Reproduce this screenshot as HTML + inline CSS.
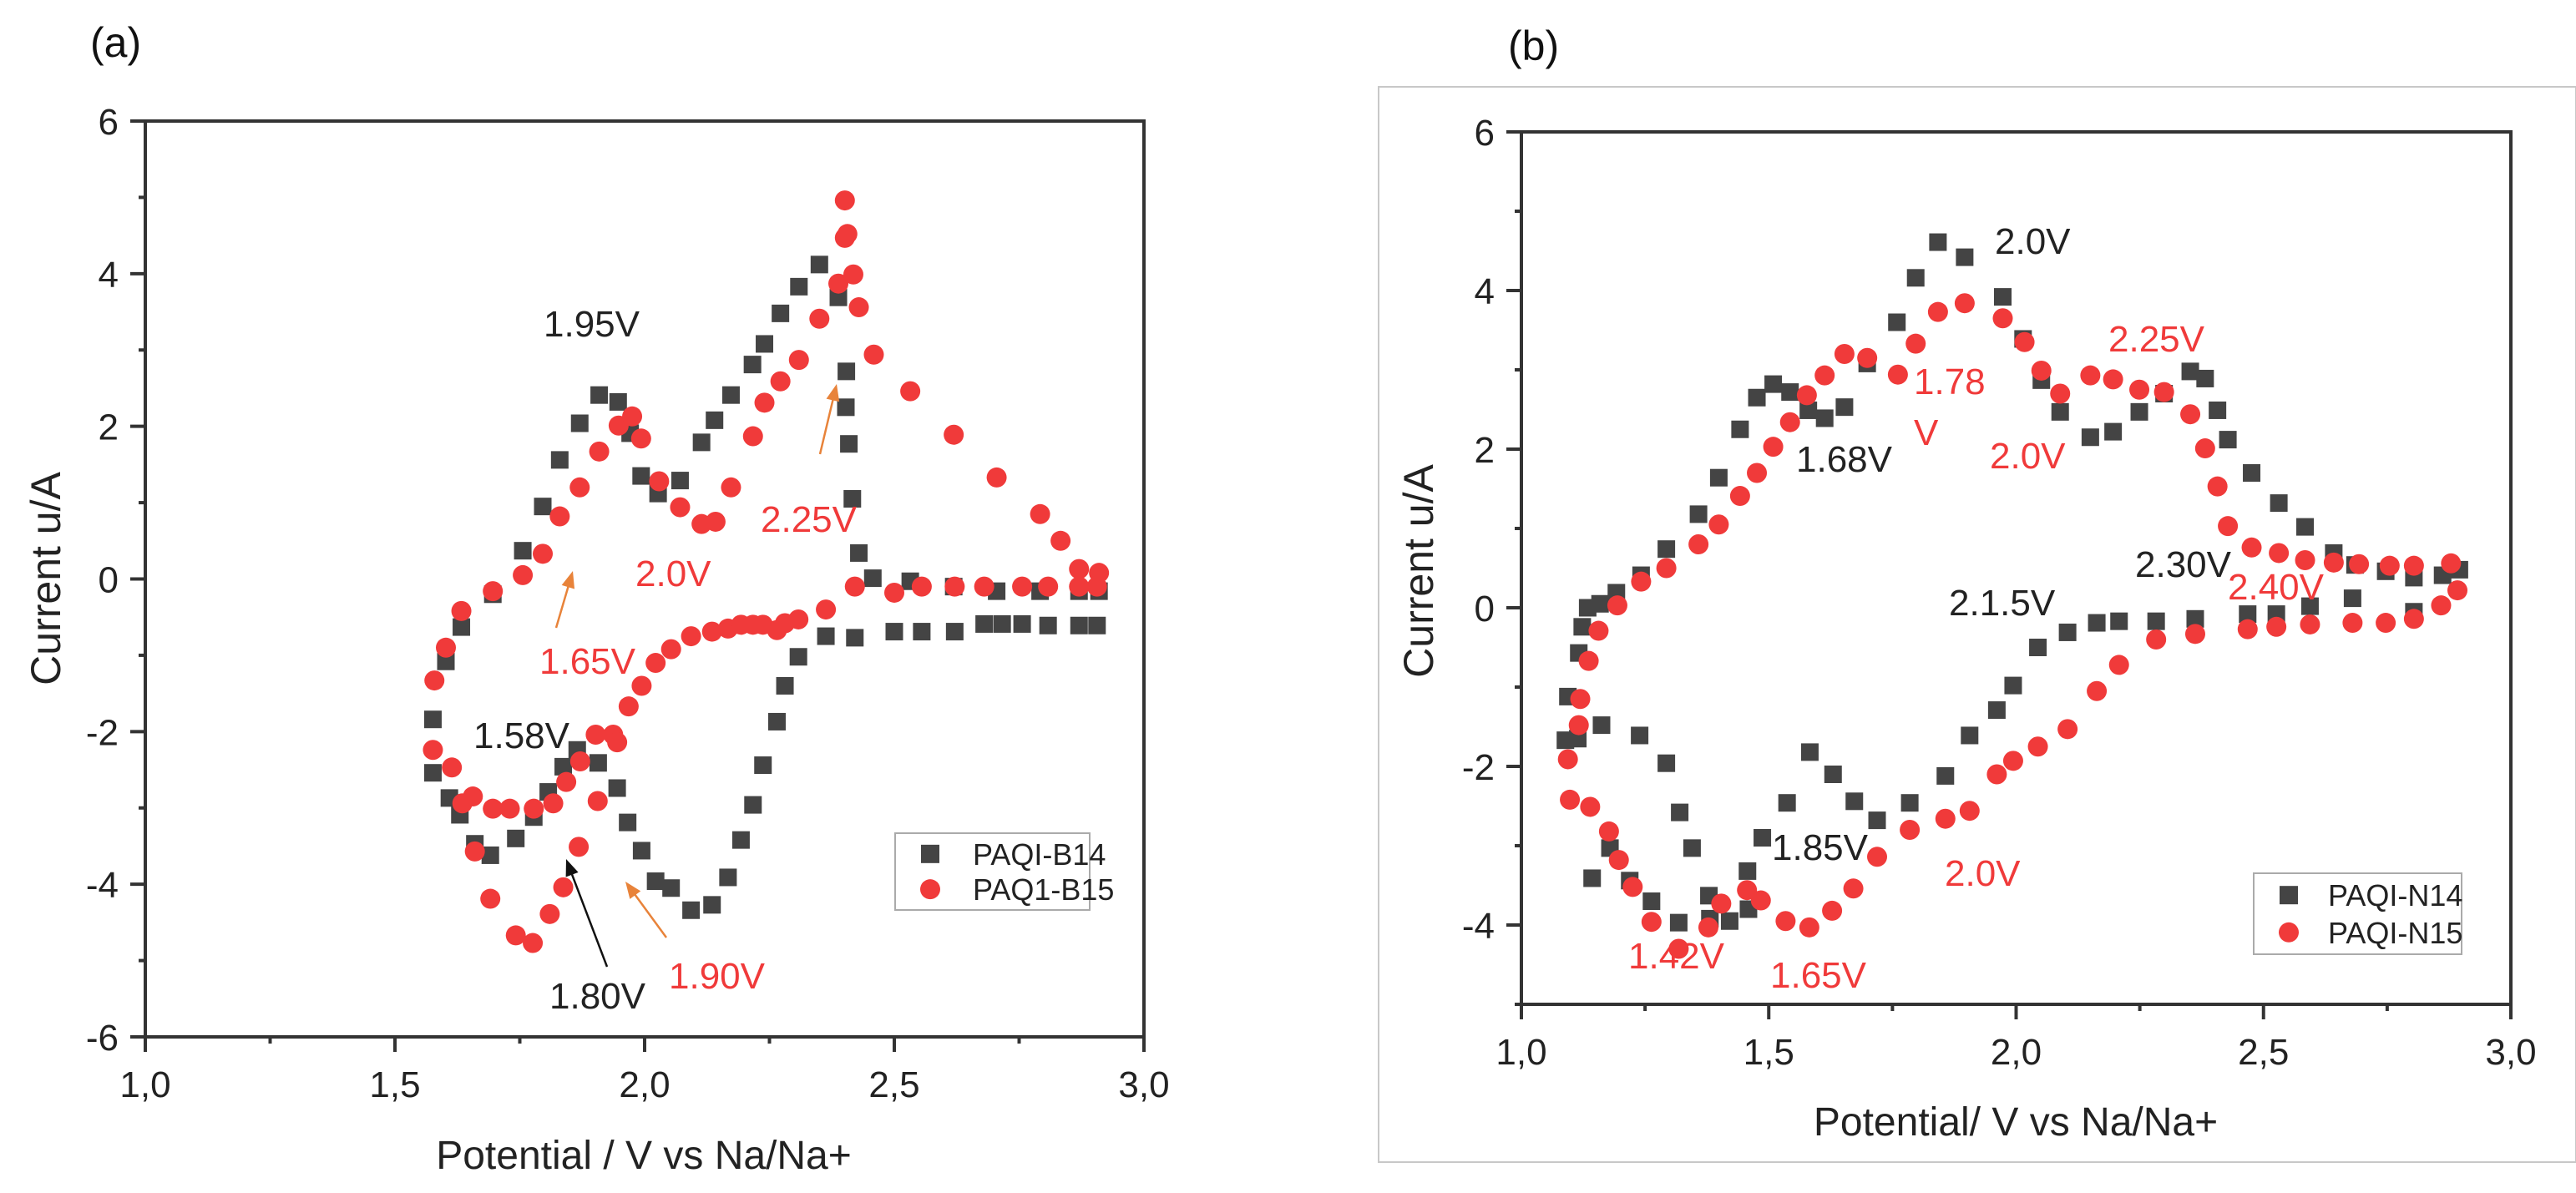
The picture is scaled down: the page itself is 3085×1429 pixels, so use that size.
<!DOCTYPE html>
<html><head><meta charset="utf-8">
<style>
html,body{margin:0;padding:0;background:#fff;}
svg{display:block;font-family:"Liberation Sans",Arial,sans-serif;}
</style></head>
<body>
<svg id="fig" width="3085" height="1429" viewBox="0 0 3085 1429" xmlns="http://www.w3.org/2000/svg">
<rect x="1651" y="104" width="1434" height="1288" fill="none" stroke="#c8c8c8" stroke-width="2"/>
<g id="pa"></g>
<g id="pb"></g>
</svg>
<script>
// ---------- Panel (a) data ----------
const aB14UpperX=[1.576,1.602,1.633,1.696,1.756,1.796,1.830,1.870,1.909,1.947,1.971,1.993,2.027,2.071,2.114,2.140,2.173,2.216,2.240,2.272,2.309,2.350,2.388,2.404,2.403,2.409,2.416,2.429,2.457,2.532,2.619,2.705,2.792,2.870,2.910];
const aB14UpperY=[-1.84,-1.08,-0.63,-0.20,0.37,0.95,1.56,2.04,2.41,2.32,1.91,1.35,1.12,1.29,1.79,2.08,2.41,2.81,3.08,3.48,3.83,4.12,3.69,2.72,2.25,1.77,1.05,0.34,0.01,-0.03,-0.10,-0.16,-0.16,-0.16,-0.16];
const aB14LowerX=[1.576,1.609,1.630,1.660,1.691,1.742,1.778,1.807,1.837,1.865,1.907,1.945,1.966,1.994,2.022,2.053,2.093,2.135,2.167,2.193,2.217,2.237,2.265,2.281,2.308,2.363,2.421,2.500,2.555,2.621,2.680,2.716,2.756,2.808,2.870,2.906];
const aB14LowerY=[-2.54,-2.87,-3.09,-3.47,-3.62,-3.40,-3.12,-2.79,-2.46,-2.24,-2.41,-2.74,-3.19,-3.56,-3.96,-4.05,-4.34,-4.27,-3.91,-3.42,-2.96,-2.44,-1.87,-1.40,-1.02,-0.75,-0.77,-0.69,-0.69,-0.69,-0.59,-0.59,-0.59,-0.61,-0.61,-0.61];
const aB15UpperX=[1.579,1.602,1.633,1.696,1.756,1.796,1.830,1.870,1.909,1.948,1.975,1.993,2.029,2.071,2.114,2.142,2.173,2.217,2.240,2.272,2.309,2.350,2.388,2.401,2.406,2.401,2.418,2.429,2.459,2.532,2.619,2.705,2.792,2.833,2.870,2.910];
const aB15UpperY=[-1.33,-0.90,-0.42,-0.16,0.05,0.33,0.82,1.20,1.67,2.01,2.13,1.84,1.28,0.94,0.72,0.75,1.20,1.87,2.31,2.59,2.87,3.41,3.87,4.47,4.52,4.96,3.99,3.56,2.94,2.46,1.89,1.33,0.85,0.50,0.13,0.08];
const aB15LowerX=[1.576,1.614,1.635,1.656,1.660,1.691,1.696,1.730,1.742,1.776,1.778,1.810,1.817,1.837,1.843,1.868,1.871,1.906,1.902,1.937,1.945,1.968,1.994,2.022,2.053,2.093,2.135,2.167,2.193,2.217,2.237,2.265,2.281,2.308,2.363,2.421,2.500,2.555,2.621,2.680,2.756,2.808,2.870,2.906];
const aB15LowerY=[-2.24,-2.47,-2.94,-2.85,-3.57,-4.19,-3.01,-3.01,-4.67,-4.77,-3.01,-4.39,-2.94,-4.04,-2.66,-3.51,-2.39,-2.91,-2.04,-2.04,-2.14,-1.67,-1.40,-1.10,-0.92,-0.75,-0.69,-0.65,-0.60,-0.60,-0.60,-0.67,-0.58,-0.53,-0.40,-0.10,-0.18,-0.10,-0.10,-0.10,-0.10,-0.10,-0.10,-0.10];
// ---------- Panel (b) data ----------
const bN14X=[1.094,1.116,1.123,1.134,1.159,1.192,1.242,1.293,1.358,1.399,1.442,1.476,1.509,1.543,1.580,1.613,1.653,1.699,1.759,1.797,1.842,1.896,1.973,2.014,2.051,2.089,2.150,2.196,2.249,2.299,2.352,2.382,2.407,2.428,2.476,2.531,2.584,2.642,2.685,2.747,2.804,2.862,2.896,
 1.089,1.114,1.143,1.162,1.179,1.219,1.239,1.263,1.293,1.318,1.320,1.345,1.379,1.381,1.421,1.459,1.457,1.487,1.537,1.583,1.630,1.673,1.719,1.785,1.857,1.906,1.961,1.994,2.044,2.104,2.163,2.208,2.283,2.362,2.468,2.526,2.594,2.680,2.804];
const bN14Y=[-1.12,-0.57,-0.24,0.00,0.05,0.19,0.41,0.74,1.18,1.64,2.25,2.65,2.82,2.72,2.49,2.39,2.53,3.08,3.60,4.16,4.61,4.42,3.92,3.39,2.87,2.47,2.15,2.22,2.47,2.70,2.98,2.89,2.49,2.12,1.70,1.32,1.02,0.69,0.54,0.46,0.38,0.41,0.48,
 -1.67,-1.65,-3.41,-1.48,-3.03,-3.44,-1.61,-3.70,-1.96,-3.97,-2.58,-3.03,-3.63,-3.92,-3.95,-3.80,-3.32,-2.90,-2.46,-1.82,-2.10,-2.44,-2.68,-2.46,-2.12,-1.61,-1.29,-0.98,-0.50,-0.31,-0.19,-0.17,-0.17,-0.14,-0.08,-0.08,0.02,0.12,-0.05];
const bN15X=[1.136,1.156,1.194,1.242,1.293,1.358,1.399,1.442,1.476,1.509,1.543,1.577,1.613,1.653,1.699,1.761,1.797,1.842,1.896,1.973,2.017,2.051,2.089,2.150,2.196,2.249,2.299,2.352,2.382,2.407,2.428,2.476,2.531,2.584,2.642,2.693,2.755,2.804,2.879,
 1.094,1.098,1.116,1.119,1.139,1.177,1.197,1.225,1.263,1.318,1.378,1.404,1.456,1.484,1.534,1.582,1.628,1.671,1.719,1.785,1.857,1.906,1.961,1.994,2.044,2.104,2.163,2.208,2.283,2.362,2.468,2.526,2.594,2.680,2.747,2.804,2.859,2.892];
const bN15Y=[-0.67,-0.29,0.03,0.33,0.50,0.80,1.05,1.41,1.70,2.03,2.34,2.68,2.93,3.20,3.15,2.94,3.33,3.73,3.84,3.65,3.35,2.99,2.70,2.93,2.88,2.75,2.72,2.44,2.01,1.53,1.03,0.76,0.69,0.60,0.57,0.55,0.53,0.53,0.56,
 -1.91,-2.42,-1.48,-1.15,-2.51,-2.82,-3.18,-3.52,-3.96,-4.30,-4.03,-3.73,-3.56,-3.69,-3.95,-4.03,-3.82,-3.54,-3.14,-2.80,-2.66,-2.56,-2.10,-1.93,-1.75,-1.53,-1.05,-0.72,-0.40,-0.33,-0.27,-0.24,-0.21,-0.19,-0.19,-0.14,0.03,0.22];
const xTickLabels=["1,0","1,5","2,0","2,5","3,0"];
const xTickValues=[1.0,1.5,2.0,2.5,3.0];
const aYTicks=[-6,-4,-2,0,2,4,6];
const bYTicks=[-4,-2,0,2,4,6];

const NS="http://www.w3.org/2000/svg";
const SQ="#444444", RD="#f03a3a";
function mk(parent,tag,attrs,text){const e=document.createElementNS(NS,tag);for(const k in attrs)e.setAttribute(k,attrs[k]);if(text!==undefined)e.textContent=text;parent.appendChild(e);return e;}

function drawPanel(g,cfg){
  const sx=v=>cfg.x0+(v-cfg.xmin)/(cfg.xmax-cfg.xmin)*(cfg.x1-cfg.x0);
  const sy=v=>cfg.y0-(v-cfg.ymin)/(cfg.ymax-cfg.ymin)*(cfg.y0-cfg.y1);
  const ax=mk(g,"g",{});
  
  
  const fr=mk(ax,"rect",{x:cfg.x0,y:cfg.y1,width:cfg.x1-cfg.x0,height:cfg.y0-cfg.y1,fill:"none",stroke:"#333",'stroke-width':4});
  
  
  // x ticks
  for(let v=1.0;v<=3.0001;v+=0.25){
    const major=Math.abs(v*2-Math.round(v*2))<1e-6;
    mk(ax,"line",{x1:sx(v),x2:sx(v),y1:cfg.y0,y2:cfg.y0+(major?18:8),stroke:"#333",'stroke-width':4});
  }
  xTickValues.forEach((v,i)=>{
    const t=mk(ax,"text",{x:sx(v),y:cfg.y0+72,'font-size':44,'text-anchor':'middle',fill:"#222"},xTickLabels[i]);
    
    
  });
  for(let v=cfg.ymin;v<=cfg.ymax;v+=1){
    const major=(v%2===0);
    mk(ax,"line",{x1:cfg.x0,x2:cfg.x0-(major?18:8),y1:sy(v),y2:sy(v),stroke:"#333",'stroke-width':4});
  }
  cfg.yTicks.forEach(v=>{
    const t=mk(ax,"text",{x:cfg.x0-32,y:sy(v)+16,'font-size':44,'text-anchor':'end',fill:"#222"},String(v));
    
    
  });
  const yt=mk(g,"text",{x:0,y:0,'font-size':50,'text-anchor':'middle',fill:"#222",transform:`translate(${cfg.ytx},${cfg.yty}) rotate(-90)`},"Current u/A");
  
  
  const xt=mk(g,"text",{x:cfg.xtx,y:cfg.xty,'font-size':48,'text-anchor':'middle',fill:"#222"},cfg.xtitle);
  
  
  const pl=mk(g,"text",{x:cfg.plx,y:cfg.ply,'font-size':50,fill:"#111"},cfg.label);
  
  
  // series
  cfg.series.forEach(s=>{
    const sg=mk(g,"g",{});
    
    
    s.xs.forEach((xv,i)=>{
      let m;
      if(s.shape==="sq") m=mk(sg,"rect",{x:sx(xv)-10.5,y:sy(s.ys[i])-10.5,width:21,height:21,fill:SQ});
      else m=mk(sg,"circle",{cx:sx(xv),cy:sy(s.ys[i]),r:12,fill:RD});
      
      
    });
  });
  // legend
  const L=cfg.legend;
  const lg=mk(g,"g",{});
  
  
  mk(lg,"rect",{x:L.x,y:L.y,width:L.w,height:L.h,fill:"#fff",stroke:"#aaa",'stroke-width':2});
  L.items.forEach((it,i)=>{
    const cy=L.y+L.h*(i===0?0.27:0.73);
    const e=mk(lg,"g",{});
    
    
    if(it.shape==="sq") mk(e,"rect",{x:L.x+L.mx-11,y:cy-11,width:22,height:22,fill:SQ});
    else mk(e,"circle",{cx:L.x+L.mx,cy:cy,r:12,fill:RD});
    mk(e,"text",{x:L.x+L.tx,y:cy+13,'font-size':36,fill:"#222"},it.text);
  });
  // annotations
  cfg.notes.forEach(n=>{
    const t=mk(g,"text",{x:n[0],y:n[1],'font-size':44,fill:n[3]},n[2]);
    
    
  });
  (cfg.arrows||[]).forEach(a=>{
    const ag=mk(g,"g",{});
    
    
    const dx=a[2]-a[0],dy=a[3]-a[1],len=Math.hypot(dx,dy),ux=dx/len,uy=dy/len;
    mk(ag,"line",{x1:a[0],y1:a[1],x2:a[2]-ux*10,y2:a[3]-uy*10,stroke:a[4],'stroke-width':2.5});
    const bx=a[2]-ux*20,by=a[3]-uy*20,px=-uy*8,py=ux*8;
    mk(ag,"polygon",{points:`${a[2]},${a[3]} ${bx+px},${by+py} ${bx-px},${by-py}`,fill:a[4]});
  });
}
const ORG="#e8833a";
drawPanel(document.getElementById("pa"),{
  x0:174,x1:1370,y0:1242,y1:145,xmin:1,xmax:3,ymin:-6,ymax:6,yTicks:aYTicks,
  ytx:72,yty:693,xtx:771,xty:1400,xtitle:"Potential / V vs Na/Na+",plx:108,ply:68,label:"(a)",
  series:[{name:"series-paqi-b14",shape:"sq",xs:aB14UpperX.concat(aB14LowerX),ys:aB14UpperY.concat(aB14LowerY)},
          {name:"series-paq1-b15",shape:"ci",xs:aB15UpperX.concat(aB15LowerX),ys:aB15UpperY.concat(aB15LowerY)}],
  legend:{x:1072,y:998,w:233,h:92,mx:42,tx:93,items:[{shape:"sq",text:"PAQI-B14"},{shape:"ci",text:"PAQ1-B15"}]},
  notes:[[651,403,"1.95V","#222"],[911,637,"2.25V",RD],[761,702,"2.0V",RD],[646,807,"1.65V",RD],[567,896,"1.58V","#222"],[658,1208,"1.80V","#222"],[801,1184,"1.90V",RD]],
  arrows:[[666,752,686,684,ORG],[982,544,1002,460,ORG],[727,1158,678,1029,"#111"],[798,1123,749,1056,ORG]]
});
drawPanel(document.getElementById("pb"),{
  x0:1822,x1:3007,y0:1203,y1:158,xmin:1,xmax:3,ymin:-5,ymax:6,yTicks:bYTicks,
  ytx:1716,yty:684,xtx:2414,xty:1360,xtitle:"Potential/ V vs Na/Na+",plx:1806,ply:72,label:"(b)",
  series:[{name:"series-paqi-n14",shape:"sq",xs:bN14X,ys:bN14Y},{name:"series-paqi-n15",shape:"ci",xs:bN15X,ys:bN15Y}],
  legend:{x:2699,y:1046,w:249,h:97,mx:42,tx:89,items:[{shape:"sq",text:"PAQI-N14"},{shape:"ci",text:"PAQI-N15"}]},
  notes:[[2389,304,"2.0V","#222"],[2525,421,"2.25V",RD],[2292,472,"1.78",RD],[2292,533,"V",RD],[2151,565,"1.68V","#222"],[2383,561,"2.0V",RD],[2557,691,"2.30V","#222"],[2668,718,"2.40V",RD],[2334,737,"2.1.5V","#222"],[2122,1030,"1.85V","#222"],[2329,1061,"2.0V",RD],[1950,1160,"1.42V",RD],[2120,1183,"1.65V",RD]]
});
</script>
</body></html>
